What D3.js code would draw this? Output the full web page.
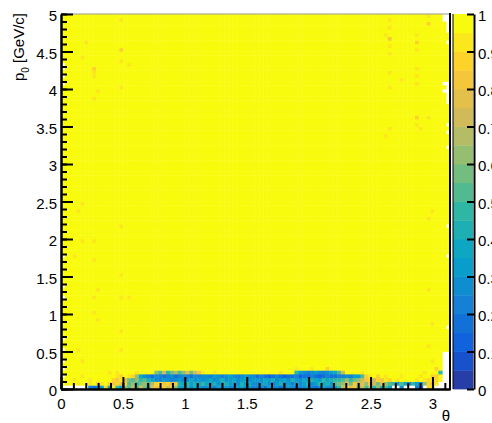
<!DOCTYPE html>
<html>
<head>
<meta charset="utf-8">
<script src="https://cdn.jsdelivr.net/npm/d3@7/dist/d3.min.js"></script>
<style>
  body { margin: 0; background: #fff; }
  text { font-family: "Liberation Sans", Arial, sans-serif; }
</style>
</head>
<body>
<svg id="chart" width="492" height="423"></svg>
<script>
// binning of the histogram: 100 bins in theta [0, pi], 100 bins in p0 [0, 5]
var nThetaBins = 100, nPBins = 100
var thetaMax = Math.PI, pMax = 5

// tick values
var xMajorTicks = [0, 0.5, 1, 1.5, 2, 2.5, 3]
var yMajorTicks = [0, 0.5, 1, 1.5, 2, 2.5, 3, 3.5, 4, 4.5, 5]
var zTicks = [0, 0.1, 0.2, 0.3, 0.4, 0.5, 0.6, 0.7, 0.8, 0.9, 1]

var pRow0 = [null,null,null,null,null,null,null, 0.2,0.15,0.25,
  0.3,0.85,0.35,0.9,0.45,0.3,0.6, 0.5,0.65,0.45,0.7,0.55,0.4,0.75,
  0.8,0.75,0.85,0.7,0.8,0.6, 0.35,0.3,0.4,0.25,0.35,0.3,0.25,
  0.25,0.3,0.2,0.35,0.25,0.3,0.25,0.2,0.3,0.35,0.25,0.3,0.2,
  0.2,0.25,0.15,0.3,0.2,0.25,0.15,0.2,0.3,0.25,0.15,0.2,0.25,0.3,0.2,0.15,0.25,0.35,0.25,0.2,0.3,0.45,
  0.7,0.85,0.75,0.8, 0.55,0.7,0.5,0.65,0.45,0.6,0.4,0.5,0.35,
  null,null,0.25,null,null,null,0.2,0.15,null, 0.85,0.9,null,null, null,null]
var pRow1 = [1,0.9,1,1,0.9,1,1, 0.9,1,0.85,0.9,1,0.85, 0.8,0.85,0.75,0.85,
  0.5,0.6,0.45,0.55,0.6,0.5,0.65, 0.85,0.9,0.8,0.85,0.75,0.8,
  0.4,0.35,0.45,0.3,0.4,0.35,0.45,
  0.35,0.3,0.4,0.25,0.35,0.4,0.3,0.35,0.25,0.4,0.3,0.35,0.25,
  0.25,0.3,0.35,0.25,0.2,0.3,0.4,0.25,0.3,0.2,0.35,0.25,0.3,0.4,0.25,0.3,0.45,0.35,0.4,0.3,0.5,0.55,
  0.6,0.75,0.55,0.8, 0.65,0.75,0.6,0.8,0.7,0.55,0.75,0.6,0.5,
  0.45,0.3,0.5,0.35,0.25,0.45,0.3,0.25,0.6, 0.85,0.8,0.9,null, null,null]
var pRow2 = [1,1,1,0.9,1,1,1,0.9,1,1,1,0.95,1, 0.85,0.8,0.9,0.75,
  0.55,0.5,0.6,0.45,0.5,0.4,0.35,
  0.25,0.2,0.3,0.25,0.2,0.25,0.3,0.2,0.25,0.35,0.25,0.3,0.25,
  0.3,0.35,0.25,0.3,0.4,0.25,0.3,0.35,0.25,0.3,0.35,0.25,0.3,
  0.3,0.25,0.35,0.3,0.4,0.25,0.3,0.35,0.25,0.4,0.3,0.25,0.35,0.3,0.4,0.35,0.3,0.45,0.35,0.4,0.45,0.45,
  0.5,0.6,0.45,0.55,0.6,0.7, 0.8,0.85,0.7,0.85,0.8,0.9,0.85,
  1,0.9,1,1,0.95,1,0.9,1,0.9, 0.85,0.9,0.85,1, null,null]
var pRow3 = [1,1,1,1,1,0.9,1,1,1,1,1,1,1,1, 0.9,0.85,0.95,0.9,0.85,0.6,0.35,
  0.25,0.2,0.15,0.25,0.2,0.15,0.2,0.25,0.15,0.2,0.25,0.2,0.15,0.25,0.2,0.25,
  0.25,0.2,0.3,0.25,0.2,0.25,0.3,0.25,0.2,0.25,0.3,0.25,0.25,
  0.15,0.2,0.15,0.1,0.15,0.2,0.15,0.1,0.15,0.15,0.2,0.1,0.15,0.15,0.2,0.15,0.1,0.15,0.2,0.15,0.15,0.2,
  0.2,0.25,0.2,0.3,0.3,0.5, 0.85,0.9,1,0.85,1,0.9,1,
  1,1,0.9,1,1,1,1,0.9,1,1,0.85,1,1, null,null]
var pRow4 = [1,1,1,1,1,1,1,1,1,1,1,1,1,1,0.9,1,1,1,1,0.9,1,1,1,1,
  0.6,0.5,0.7,0.45,0.55,0.65,0.5,0.6,0.75,0.55,0.7,0.8,0.9,
  1,1,0.9,1,1,1,1,1,1,1,1,1,1,1,1,1,1,1,1,0.9,1,1,1,
  0.45,0.3,0.25,0.2,0.25,0.3,0.25,0.2,0.25,0.3,0.35,0.5,0.7,
  1,1,1,1,0.9,1,1,1,1,1,1,1,1,1,1,1,1,1,1,1,0.9,1,1,1,
  0.45, null,null]
var lowRows = [pRow0, pRow1, pRow2, pRow3, pRow4]

// isolated bins below 1 : [theta bin, p0 bin, value]
var spots = [[15,98,0.9],[6,92,0.9],[15,90,0.85],[5,88,0.9],[15,87,0.9],[17,86,0.9],[8,85,0.85],
  [8,84,0.9],[8,83,0.9],[15,80,0.9],[9,79,0.9],[8,77,0.9],
  [94,99,0.9],[94,97,0.85],[84,98,0.9],[84,96,0.9],[83,94,0.9],[84,93,0.8],[84,91,0.9],[84,89,0.9],
  [91,94,0.9],[91,92,0.85],[91,90,0.9],[84,84,0.9],[87,82,0.9],[91,85,0.9],[91,83,0.9],[91,81,0.9],
  [84,80,0.9],[91,72,0.85],[94,72,0.9],[91,70,0.9],[92,69,0.9],[84,69,0.9],[83,67,0.9],
  [5,49,0.9],[4,47,0.9],[15,43,0.9],[5,39,0.9],[8,39,0.9],[3,35,0.9],[8,34,0.9],[15,30,0.9],
  [9,26,0.9],[8,24,0.9],[15,24,0.9],[17,24,0.9],[8,20,0.9],[9,18,0.9],[15,15,0.9],[4,10,0.9],
  [5,7,0.9],[15,10,0.9],[12,4,0.9],
  [95,47,0.9],[94,45,0.9],[94,26,0.9],[95,17,0.9],[94,11,0.9],[95,7,0.9],[96,5,0.85],[96,3,0.85],
  [60,5,0.9],[64,5,0.9],[68,5,0.85]]

// empty bins : [theta bin, p0 bin]
var emptyBins = [[0,86],[0,85],[0,83],[0,81],[0,35],[0,27],[0,24],[0,13],[0,10],[0,7],[0,5],[0,3],
  [99,96],[99,95],[99,92],[98,81],[99,81],[99,80],[98,79],[99,79],[99,78],[99,77],[99,76],
  [99,70],[99,68],[99,64],[99,43],[99,35],[99,16],
  [98,9],[99,9],[98,8],[99,8],[98,7],[99,7],[98,6],[99,6],[98,5],[99,5],
  [98,99],[99,99],[98,98],[99,98],[99,97]]

// ROOT kBird palette
var birdStops = [0.0000, 0.1250, 0.2500, 0.3750, 0.5000, 0.6250, 0.7500, 0.8750, 1.0000]
var birdR = [0.2082, 0.0592, 0.0780, 0.0232, 0.1802, 0.5301, 0.8186, 0.9956, 0.9764]
var birdG = [0.1664, 0.3599, 0.5041, 0.6419, 0.7178, 0.7492, 0.7328, 0.7862, 0.9832]
var birdB = [0.5293, 0.8684, 0.8385, 0.7914, 0.6425, 0.4662, 0.3499, 0.1968, 0.0539]
var nLevels = 20

var birdColors = birdStops.map(function(s, k) {
  return d3.rgb(birdR[k] * 255, birdG[k] * 255, birdB[k] * 255)
})
var bird = d3.scaleLinear().domain(birdStops).range(birdColors).interpolate(d3.interpolateRgb)

function levelColor(level) {
  var idx = Math.floor((level + 0.99) * 255 / nLevels)
  return bird(idx / 254)
}
function valueColor(v) {
  var level = Math.min(nLevels - 1, Math.floor(v * nLevels + 1e-9))
  return levelColor(level)
}

// build the grid
var grid = []
for (var i = 0; i < nThetaBins; i++) {
  grid.push([])
  for (var j = 0; j < nPBins; j++) grid[i].push(1)
}
lowRows.forEach(function(row, j) {
  row.forEach(function(v, i) { grid[i][j] = v })
})
spots.forEach(function(s) { grid[s[0]][s[1]] = s[2] })
emptyBins.forEach(function(e) { grid[e[0]][e[1]] = null })

var cells = []
for (var i = 0; i < nThetaBins; i++)
  for (var j = 0; j < nPBins; j++)
    if (grid[i][j] != null && grid[i][j] > 0) cells.push({ i: i, j: j, v: grid[i][j] })

var svg = d3.select('#chart')
var x = d3.scaleLinear().domain([0, thetaMax]).range([61, 450])
var y = d3.scaleLinear().domain([0, pMax]).range([389, 14])
var z = d3.scaleLinear().domain([0, 1]).range([389, 14])

var dTheta = thetaMax / nThetaBins, dP = pMax / nPBins

svg.append('g').selectAll('rect').data(cells).enter().append('rect')
  .attr('x', function(d) { return x(d.i * dTheta) })
  .attr('y', function(d) { return y((d.j + 1) * dP) })
  .attr('width', function(d) { return x((d.i + 1) * dTheta) - x(d.i * dTheta) + 0.4 })
  .attr('height', function(d) { return y(d.j * dP) - y((d.j + 1) * dP) + 0.4 })
  .attr('fill', function(d) { return valueColor(d.v) })

// frame top / right
svg.append('line').attr('x1', 61).attr('x2', 450).attr('y1', 14).attr('y2', 14)
  .attr('stroke', '#999').attr('stroke-width', 1)
svg.append('line').attr('x1', 450).attr('x2', 450).attr('y1', 13).attr('y2', 390)
  .attr('stroke', '#000').attr('stroke-width', 2)

function styleAxis(g) {
  g.selectAll('path').attr('stroke-width', 2)
  g.selectAll('line').attr('stroke-width', 2)
  g.selectAll('text').attr('font-size', 15).attr('fill', '#000')
}

var fmt = function(d) { return String(+d.toFixed(1)) }

// x axis
var xMinor = d3.range(0, 32).map(function(k) { return k / 10 })
svg.append('g').attr('transform', 'translate(0,389)')
  .call(d3.axisBottom(x).tickValues(xMinor).tickSize(-6).tickSizeOuter(0).tickFormat(''))
  .call(styleAxis)
svg.append('g').attr('transform', 'translate(0,389)')
  .call(d3.axisBottom(x).tickValues(xMajorTicks).tickSize(-12).tickSizeOuter(0).tickPadding(9).tickFormat(fmt))
  .call(styleAxis)

// y axis
var yMinor = d3.range(0, 51).map(function(k) { return k / 10 })
svg.append('g').attr('transform', 'translate(61,0)')
  .call(d3.axisLeft(y).tickValues(yMinor).tickSize(-6).tickSizeOuter(0).tickFormat(''))
  .call(styleAxis)
svg.append('g').attr('transform', 'translate(61,0)')
  .call(d3.axisLeft(y).tickValues(yMajorTicks).tickSize(-12).tickSizeOuter(0).tickPadding(4).tickFormat(fmt))
  .call(styleAxis)
  .selectAll('text').attr('dy', '0.45em')

// palette
var levels = d3.range(nLevels)
svg.append('g').selectAll('rect').data(levels).enter().append('rect')
  .attr('x', 453).attr('width', 20)
  .attr('y', function(l) { return z((l + 1) / nLevels) })
  .attr('height', function(l) { return z(l / nLevels) - z((l + 1) / nLevels) + 0.4 })
  .attr('fill', function(l) { return levelColor(l) })
svg.append('line').attr('x1', 453).attr('x2', 453).attr('y1', 14).attr('y2', 389)
  .attr('stroke', '#000').attr('stroke-width', 1)
svg.append('g').attr('transform', 'translate(474,0)')
  .call(d3.axisRight(z).tickValues(zTicks).tickSize(-7).tickSizeOuter(0).tickPadding(4).tickFormat(fmt))
  .call(styleAxis)
  .selectAll('text').attr('dy', '0.45em')

// titles
var yTitle = svg.append('text').attr('transform', 'translate(24,13) rotate(-90)')
  .attr('text-anchor', 'end').attr('font-size', 15)
yTitle.append('tspan').text('p')
yTitle.append('tspan').attr('dy', 5).attr('font-size', 10).text('0')
yTitle.append('tspan').attr('dy', -5).text(' [GeV/c]')

svg.append('text').attr('x', 450).attr('y', 421).attr('text-anchor', 'end')
  .attr('font-size', 15).text('θ')
</script>
</body>
</html>
